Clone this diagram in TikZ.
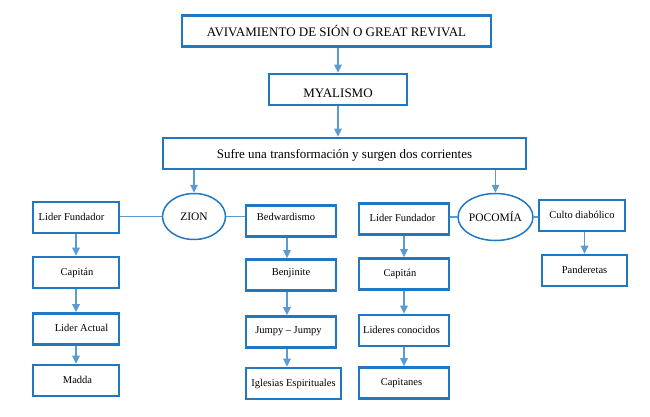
\documentclass[tikz,border=0pt]{standalone}
\usepackage{fontspec}
\setmainfont{Liberation Serif}
\usetikzlibrary{arrows.meta,shapes.geometric}
\definecolor{boxblue}{HTML}{1F78C1}
\definecolor{arrblue}{HTML}{5B9BD5}
\begin{document}
\begin{tikzpicture}[x=1pt,y=-1pt,
  box/.style={draw=boxblue, line width=2.6pt, inner sep=0pt, minimum height=31pt,
    font=\fontsize{10.5}{12}\selectfont, text height=7pt, text depth=2pt},
  bigbox/.style={draw=boxblue, line width=2.6pt, inner sep=0pt, minimum height=31pt,
    font=\fontsize{13}{15}\selectfont},
  oval/.style={ellipse, draw=boxblue, line width=1.5pt, inner sep=0pt,
    font=\fontsize{11.5}{13}\selectfont},
  arr/.style={draw=arrblue, line width=1.5pt, -{Triangle[width=7.5pt,length=8pt]}},
  link/.style={draw=arrblue, line width=1.1pt}]
\useasboundingbox (0,0) rectangle (650,416);

% top chain
\node[bigbox, minimum width=309pt] (top) at (336.5,31) {AVIVAMIENTO DE SIÓN O GREAT REVIVAL};
\node[bigbox, minimum width=138pt, text height=16.6pt, text depth=0pt] (mya) at (338,89.5) {MYALISMO};
\node[bigbox, minimum width=363pt, text height=11pt, text depth=2pt] (trans) at (344.5,153.5) {Sufre una transformación y surgen dos corrientes};

% ellipses
\node[oval, minimum width=63pt, minimum height=46pt] (zion) at (194,216.5) {ZION};
\node[oval, minimum width=70pt, minimum height=47pt] (poc) at (495.5,217) {POCOMÍA};

% left column (ZION)
\node[box, minimum width=86pt] (lf1) at (76,217.5) {\hspace*{-9pt}Lider Fundador};
\node[box, minimum width=86pt] (cap1) at (76,272.5) {\hspace*{2pt}Capitán};
\node[box, minimum width=86pt] (la) at (76,329) {\hspace*{11pt}Lider Actual};
\node[box, minimum width=86pt] (madda) at (76,380.5) {\hspace*{3pt}Madda};

% ZION right column
\node[box, minimum width=90pt, text depth=9pt] (bed) at (291,221) {\hspace*{-10pt}Bedwardismo};
\node[box, minimum width=90pt, text depth=7pt] (benj) at (291,275) {Benjinite};
\node[box, minimum width=90pt, text depth=4pt] (jumpy) at (291,332) {\hspace*{-5pt}Jumpy – Jumpy};
\node[box, minimum width=95pt] (igl) at (293.5,383.5) {Iglesias Espirituales};

% POCOMIA left column
\node[box, minimum width=90pt] (lf2) at (404,219) {\hspace*{-3pt}Lider Fundador};
\node[box, minimum width=90pt] (cap2) at (404,274) {\hspace*{-8pt}Capitán};
\node[box, minimum width=90pt] (lc) at (404,330.5) {\hspace*{-5pt}Lideres conocidos};
\node[box, minimum width=90pt] (capn) at (404,383) {\hspace*{-5pt}Capitanes};

% POCOMIA right column
\node[box, minimum width=86pt] (cd) at (582,215.5) {Culto diabólico};
\node[box, minimum width=85pt] (pand) at (584.5,270.5) {Panderetas};

% arrows of the top chain
\draw[arr] (top.south -| mya.north) -- (mya.north);
\draw[arr] (mya.south) -- (mya.south |- trans.north);
\draw[arr] (trans.south -| zion.north) -- (zion.north);
\draw[arr] (trans.south -| poc.north) -- (poc.north);

% horizontal links
\draw[link] (zion.west) -- (zion.west -| lf1.east);
\draw[link] (zion.east) -- (zion.east -| bed.west);
\draw[link] (poc.west) -- (poc.west -| lf2.east);
\draw[link] (poc.east) -- (poc.east -| cd.west);

% vertical arrows
\draw[arr] (lf1.south) -- (cap1.north);
\draw[arr] (cap1.south) -- (la.north);
\draw[arr] (la.south) -- (madda.north);
\draw[arr] ([xshift=-4pt]bed.south) -- ([xshift=-4pt]bed.south |- benj.north);
\draw[arr] ([xshift=-4pt]benj.south) -- ([xshift=-4pt]benj.south |- jumpy.north);
\draw[arr] ([xshift=-4pt]jumpy.south) -- ([xshift=-4pt]jumpy.south |- igl.north);
\draw[arr] (lf2.south) -- (cap2.north);
\draw[arr] (cap2.south) -- (lc.north);
\draw[arr] (lc.south) -- (capn.north);
\draw[arr] (cd.south -| pand.north) -- (pand.north);
\end{tikzpicture}
\end{document}
